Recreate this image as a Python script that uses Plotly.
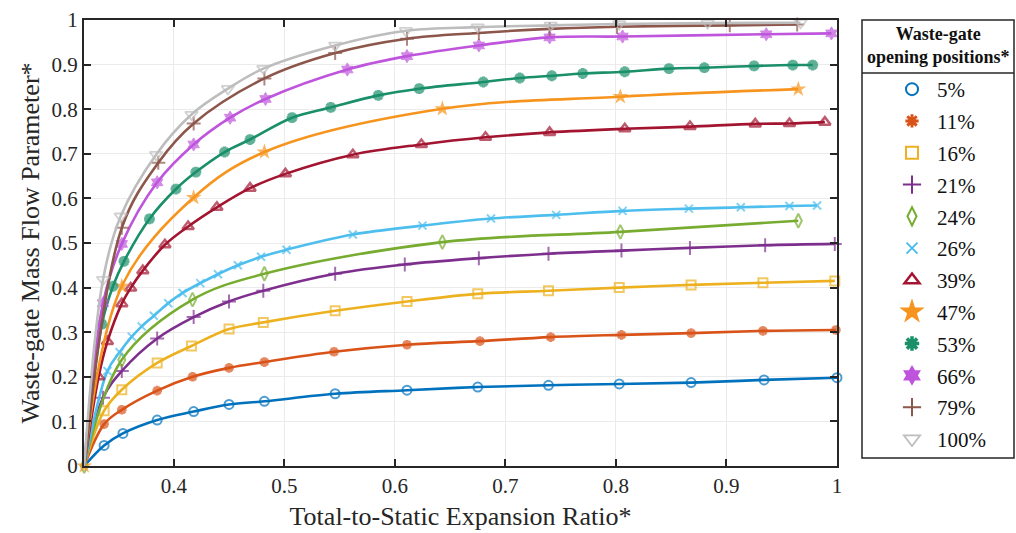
import plotly.graph_objects as go

# ---------------- data ----------------
labels = ["5%", "11%", "16%", "21%", "24%", "26%", "39%", "47%", "53%", "66%", "79%", "100%"]

x5 = [0.319, 0.337, 0.354, 0.385, 0.418, 0.450, 0.482, 0.546, 0.611, 0.675, 0.739, 0.803, 0.868, 0.934, 1.000]
y5 = [0.0, 0.046, 0.073, 0.103, 0.122, 0.138, 0.145, 0.162, 0.170, 0.177, 0.181, 0.184, 0.187, 0.193, 0.198]

x11 = [0.319, 0.337, 0.353, 0.385, 0.417, 0.450, 0.482, 0.545, 0.611, 0.677, 0.741, 0.805, 0.868, 0.933, 0.999]
y11 = [0.0, 0.094, 0.126, 0.169, 0.200, 0.220, 0.233, 0.256, 0.272, 0.280, 0.289, 0.294, 0.298, 0.303, 0.305]

x16 = [0.319, 0.337, 0.353, 0.385, 0.416, 0.450, 0.481, 0.546, 0.611, 0.675, 0.739, 0.803, 0.868, 0.933, 0.998]
y16 = [0.0, 0.124, 0.171, 0.231, 0.269, 0.307, 0.322, 0.348, 0.369, 0.386, 0.393, 0.400, 0.406, 0.411, 0.415]

x21 = [0.319, 0.336, 0.353, 0.385, 0.418, 0.450, 0.481, 0.546, 0.609, 0.676, 0.739, 0.805, 0.867, 0.935, 0.998]
y21 = [0.0, 0.153, 0.213, 0.286, 0.334, 0.369, 0.393, 0.431, 0.452, 0.466, 0.476, 0.483, 0.489, 0.495, 0.498]

x24 = [0.319, 0.353, 0.417, 0.482, 0.643, 0.804, 0.965]
y24 = [0.0, 0.238, 0.373, 0.431, 0.502, 0.525, 0.550]

x26 = [0.319, 0.340, 0.351, 0.362, 0.371, 0.382, 0.395, 0.408, 0.424, 0.440, 0.458, 0.479,
       0.502, 0.562, 0.625, 0.687, 0.746, 0.806, 0.866, 0.913, 0.957, 0.982]
y26 = [0.0, 0.213, 0.255, 0.290, 0.313, 0.337, 0.365, 0.388, 0.410, 0.430, 0.450, 0.469,
       0.485, 0.519, 0.539, 0.555, 0.563, 0.572, 0.577, 0.580, 0.583, 0.584]

x39 = [0.319, 0.332, 0.340, 0.353, 0.361, 0.372, 0.392, 0.413, 0.439, 0.469, 0.501, 0.562,
       0.624, 0.682, 0.740, 0.808, 0.867, 0.926, 0.957, 0.989]
y39 = [0.0, 0.200, 0.279, 0.364, 0.399, 0.438, 0.496, 0.537, 0.580, 0.623, 0.655, 0.698,
       0.721, 0.737, 0.748, 0.756, 0.761, 0.767, 0.768, 0.771]

x47 = [0.319, 0.353, 0.418, 0.482, 0.643, 0.804, 0.965]
y47 = [0.0, 0.403, 0.602, 0.704, 0.801, 0.828, 0.845]

x53 = [0.319, 0.335, 0.345, 0.355, 0.378, 0.402, 0.420, 0.446, 0.469, 0.507, 0.542, 0.585,
       0.622, 0.680, 0.713, 0.742, 0.770, 0.808, 0.848, 0.880, 0.925, 0.960, 0.978]
y53 = [0.0, 0.318, 0.403, 0.459, 0.554, 0.621, 0.659, 0.704, 0.732, 0.781, 0.804, 0.831,
       0.846, 0.861, 0.870, 0.875, 0.880, 0.884, 0.891, 0.893, 0.897, 0.899, 0.899]

x66 = [0.319, 0.336, 0.353, 0.385, 0.418, 0.451, 0.483, 0.557, 0.611, 0.676, 0.740, 0.806, 0.936, 0.995]
y66 = [0.0, 0.365, 0.498, 0.636, 0.721, 0.781, 0.823, 0.889, 0.919, 0.943, 0.961, 0.963, 0.968, 0.970]

x79 = [0.319, 0.353, 0.386, 0.418, 0.482, 0.546, 0.611, 0.676, 0.740, 0.801, 0.903, 0.964]
y79 = [0.0, 0.534, 0.680, 0.768, 0.869, 0.926, 0.958, 0.971, 0.980, 0.985, 0.988, 0.990]

x100 = [0.319, 0.336, 0.352, 0.384, 0.416, 0.449, 0.481, 0.546, 0.610, 0.675, 0.741, 0.803, 0.883, 0.967]
y100 = [0.0, 0.418, 0.560, 0.698, 0.788, 0.846, 0.891, 0.943, 0.976, 0.984, 0.988, 0.991, 0.993, 0.994]

xs = [x5, x11, x16, x21, x24, x26, x39, x47, x53, x66, x79, x100]
ys = [y5, y11, y16, y21, y24, y26, y39, y47, y53, y66, y79, y100]

x_ticks = [0.4, 0.5, 0.6, 0.7, 0.8, 0.9, 1.0]
x_ticklabels = ["0.4", "0.5", "0.6", "0.7", "0.8", "0.9", "1"]
y_ticks = [0.0, 0.1, 0.2, 0.3, 0.4, 0.5, 0.6, 0.7, 0.8, 0.9, 1.0]
y_ticklabels = ["0", "0.1", "0.2", "0.3", "0.4", "0.5", "0.6", "0.7", "0.8", "0.9", "1"]

legend_title = "<b>Waste-gate</b><br><b>opening positions*</b>"

# ---------------- styles ----------------
colors = ["#0072BD", "#D95319", "#EDB120", "#7E2F8E", "#77AC30", "#4DBEEE",
          "#A2142F", "#F7941D", "#1A8F6A", "#BF55DC", "#8C564B", "#BDBDBD"]
symbols = ["circle-open", "asterisk-open", "square-open", "cross-thin-open", "diamond-tall-open",
           "x-thin-open", "triangle-up-open", "star", "asterisk-open", "hexagram",
           "cross-thin-open", "triangle-down-open"]
msizes = [9, 8, 9, 10, 10, 8, 10, 12, 9, 10, 10, 11]
mlw = [2, 3, 2, 2, 2, 2, 2.5, 0, 3.5, 1, 2, 1.8]
origin_marker = [False, False, False, False, True, False, False, True, False, False, False, False]

FONT = "Liberation Serif"
L, R, T, B = 84, 179, 20, 67
W, H = 1016, 533
PW, PH = W - L - R, H - T - B


def px_x(p):  # page px -> paper x
    return (p - L) / PW


def px_y(p):  # page px -> paper y
    return (H - B - p) / PH


fig = go.Figure()
for i, lab in enumerate(labels):
    sz = [msizes[i]] * len(xs[i])
    if not origin_marker[i]:
        sz[0] = 0
    fig.add_trace(go.Scatter(
        x=xs[i], y=ys[i], mode="lines+markers", name=lab,
        line=dict(color=colors[i], width=2.6, shape="spline", smoothing=1.0),
        marker=dict(symbol=symbols[i], size=sz, color=colors[i],
                    line=dict(color=colors[i], width=mlw[i])),
        cliponaxis=False, showlegend=False, hoverinfo="skip"))

# legend-only entries (markers only)
for i, lab in enumerate(labels):
    fig.add_trace(go.Scatter(
        x=[None], y=[None], mode="markers", name=lab, legendgroup=lab,
        marker=dict(symbol=symbols[i], size=msizes[i] + 3, color=colors[i],
                    line=dict(color=colors[i], width=max(mlw[i], 1.8))),
        showlegend=True))

# legend frame, separator and title
fig.add_shape(type="rect", xref="paper", yref="paper",
              x0=px_x(862), x1=px_x(1014), y0=px_y(458), y1=px_y(20),
              line=dict(color="#262626", width=1.5), fillcolor="rgba(0,0,0,0)")
fig.add_shape(type="line", xref="paper", yref="paper",
              x0=px_x(862), x1=px_x(1014), y0=px_y(73), y1=px_y(73),
              line=dict(color="#262626", width=1.5))
fig.add_annotation(xref="paper", yref="paper", x=px_x(938), y=px_y(46),
                   xanchor="center", yanchor="middle", align="center",
                   text=legend_title, showarrow=False,
                   font=dict(family=FONT, size=18, color="#111111"))

fig.update_layout(
    width=W, height=H,
    paper_bgcolor="white", plot_bgcolor="white",
    margin=dict(l=L, r=R, t=T, b=B, pad=0, autoexpand=False),
    font=dict(family=FONT, size=18, color="#262626"),
    xaxis=dict(range=[0.3188, 1.0], tickvals=x_ticks, ticktext=x_ticklabels,
               automargin=False,
               showgrid=True, gridcolor="#EBEBEB", gridwidth=1,
               showline=True, linecolor="#262626", linewidth=2, mirror="ticks",
               ticks="inside", ticklen=7, tickwidth=2, tickcolor="#262626",
               zeroline=False, tickfont=dict(size=21, color="#262626"),
               title=dict(text="Total-to-Static Expansion Ratio*", font=dict(size=26, color="#262626"),
                          standoff=10)),
    yaxis=dict(range=[0, 1.0], tickvals=y_ticks, ticktext=y_ticklabels,
               automargin=False,
               showgrid=True, gridcolor="#EBEBEB", gridwidth=1,
               showline=True, linecolor="#262626", linewidth=2, mirror="ticks",
               ticks="inside", ticklen=7, tickwidth=2, tickcolor="#262626",
               zeroline=False, tickfont=dict(size=21, color="#262626"),
               title=dict(text="Waste-gate Mass Flow Parameter*", font=dict(size=26, color="#262626"),
                          standoff=4)),
    legend=dict(x=px_x(887), y=px_y(69), xanchor="left", yanchor="top",
                borderwidth=0, bgcolor="rgba(0,0,0,0)",
                font=dict(size=21, color="#111111"),
                tracegroupgap=1.5, itemwidth=40),
)

fig.write_html("out.html", config={"displayModeBar": False},
               post_script="document.body.style.margin='0';")
